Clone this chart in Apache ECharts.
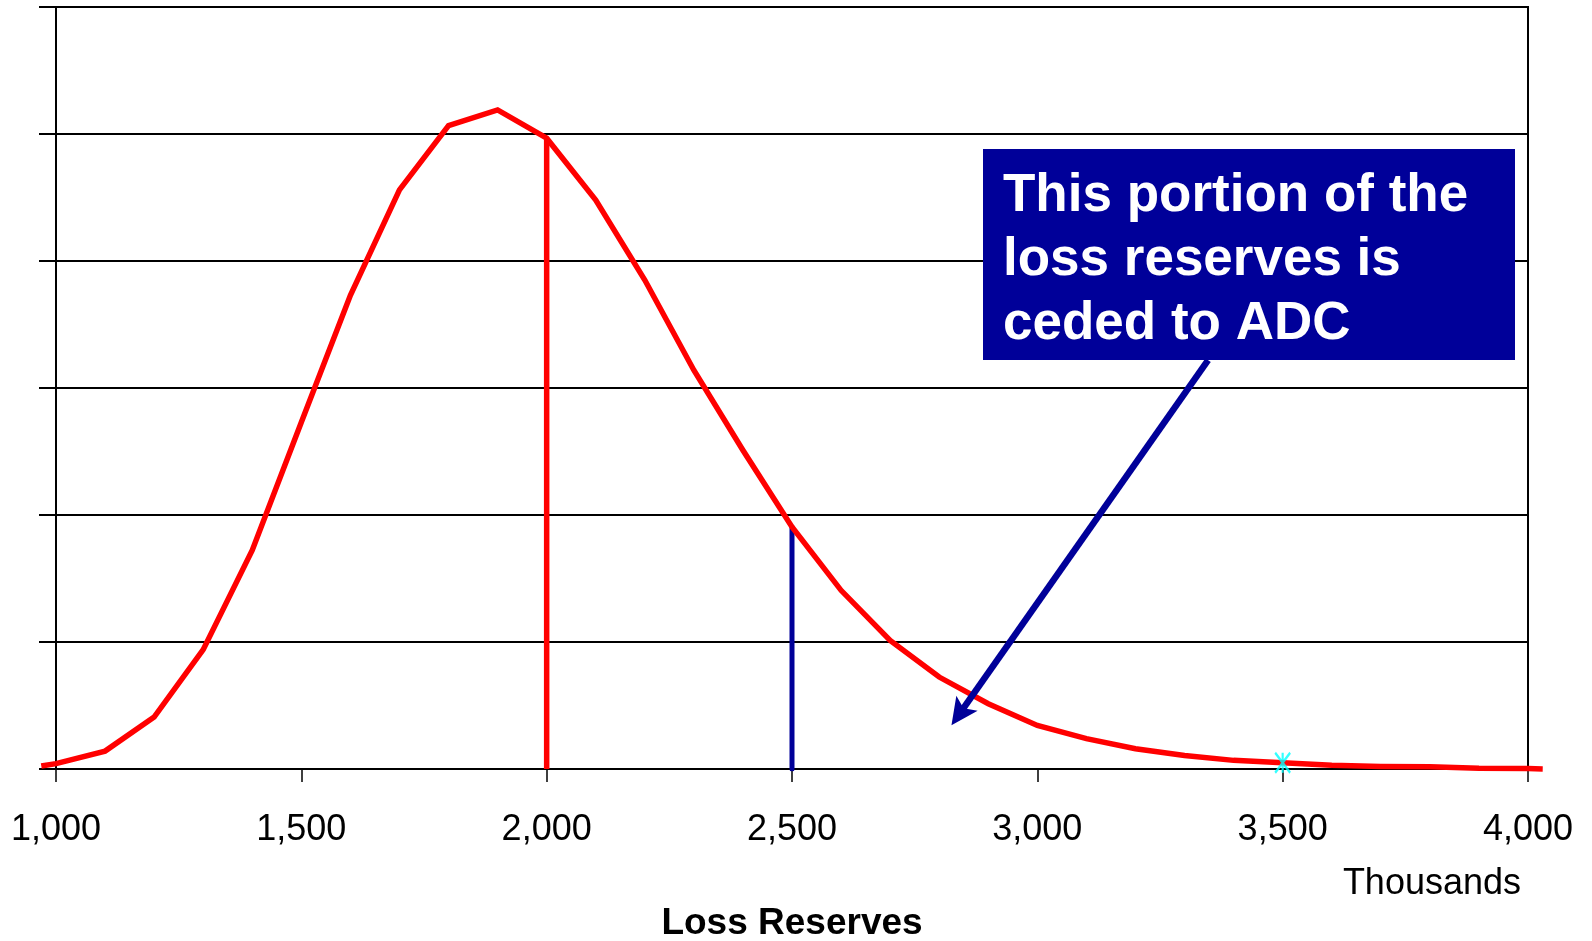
<!DOCTYPE html>
<html>
<head>
<meta charset="utf-8">
<title>Loss Reserves Distribution</title>
<script src="https://cdn.jsdelivr.net/npm/echarts@6/dist/echarts.min.js"></script>
<style>
  html, body { margin: 0; padding: 0; background: #ffffff; }
  #chart { width: 1592px; height: 941px; }
</style>
</head>
<body>
<div id="chart"></div>
<script>
// Loss reserves in thousands and the relative probability of each outcome
const lossReserves = [970, 1000, 1100, 1200, 1300, 1400, 1500, 1600, 1700, 1800, 1900,
  2000, 2100, 2200, 2300, 2400, 2500, 2600, 2700, 2800, 2900,
  3000, 3100, 3200, 3300, 3400, 3500, 3600, 3700, 3800, 3900, 4000, 4030];
const density = [0.023, 0.042, 0.141, 0.409, 0.94, 1.723, 2.73, 3.73, 4.56, 5.066, 5.19,
  4.967, 4.48, 3.85, 3.14, 2.51, 1.906, 1.407, 1.013, 0.724, 0.514,
  0.343, 0.239, 0.16, 0.107, 0.068, 0.05, 0.03, 0.02, 0.018, 0.006, 0.003, 0];

const xTicks = [1000, 1500, 2000, 2500, 3000, 3500, 4000];
const expectedReserve = 2000;   // red reference line
const attachmentPoint = 2500;   // blue reference line (ADC attaches here)
const markedPoint = 3500;       // highlighted point on the tail
const calloutText = ['This portion of the', 'loss reserves is', 'ceded to ADC'];
const calloutArrow = { from: [3348, 3.22], to: [2825, 0.344] };

const valueAt = x => density[lossReserves.indexOf(x)];
const curve = lossReserves.map((x, i) => [x, density[i]]);

const FONT = '"Liberation Sans", Arial, sans-serif';
const NAVY = '#000099';

// Plot frame in pixels; the curve gets a twin frame widened to its own data range
// (same px-per-thousand) so its ends can run slightly past the 1,000 / 4,000 frame.
const W = 1592;
const frame = { left: 56, right: 64, top: 7, bottom: 172 };
const xMin = 1000, xMax = 4000;
const curveMin = lossReserves[0], curveMax = lossReserves[lossReserves.length - 1];
const pxPerUnit = (W - frame.left - frame.right) / (xMax - xMin);
const curveFrame = {
  left: frame.left - (xMin - curveMin) * pxPerUnit,
  right: frame.right - (curveMax - xMax) * pxPerUnit,
  top: frame.top, bottom: frame.bottom
};

const chart = echarts.init(document.getElementById('chart'), null, { renderer: 'canvas' });

chart.setOption({
  animation: false,
  backgroundColor: '#ffffff',
  grid: [
    Object.assign({
      outerBoundsMode: 'none', containLabel: false,
      show: true, borderColor: '#000000', borderWidth: 2, backgroundColor: 'transparent'
    }, frame),
    Object.assign({ outerBoundsMode: 'none', containLabel: false, show: false }, curveFrame)
  ],
  xAxis: [
    {
      type: 'value', gridIndex: 0,
      min: xMin, max: xMax, interval: 500,
      name: 'Loss Reserves',
      nameLocation: 'middle',
      nameGap: 136,
      nameTextStyle: { fontFamily: FONT, fontSize: 37, fontWeight: 'bold', color: '#000000' },
      axisLine: { show: true, onZero: false, lineStyle: { color: '#000000', width: 2 } },
      axisTick: { show: true, length: 13, lineStyle: { color: '#000000', width: 1.5 } },
      axisLabel: {
        margin: 43, fontFamily: FONT, fontSize: 36, color: '#000000',
        formatter: v => xTicks.includes(v) ? v.toLocaleString('en-US') : ''
      },
      splitLine: { show: false }
    },
    {
      type: 'value', gridIndex: 1, show: false,
      min: curveMin, max: curveMax, splitLine: { show: false }
    }
  ],
  yAxis: [
    {
      type: 'value', gridIndex: 0,
      min: 0, max: 6, interval: 1,
      axisLine: { show: true, lineStyle: { color: '#000000', width: 2 } },
      axisTick: { show: true, length: 17, lineStyle: { color: '#000000', width: 2 } },
      axisLabel: { show: false },
      splitLine: { show: true, lineStyle: { color: '#000000', width: 2 } }
    },
    {
      type: 'value', gridIndex: 1, show: false,
      min: 0, max: 6, interval: 1, splitLine: { show: false }
    }
  ],
  series: [
    {
      name: 'Distribution',
      type: 'line',
      xAxisIndex: 1, yAxisIndex: 1,
      data: curve,
      clip: false,
      symbol: 'none',
      lineStyle: { color: '#ff0000', width: 5.5, join: 'miter' },
      z: 3
    },
    {
      name: 'Expected',
      type: 'line',
      data: [[expectedReserve, 0], [expectedReserve, valueAt(expectedReserve)]],
      symbol: 'none',
      lineStyle: { color: '#ff0000', width: 5.5 },
      z: 2
    },
    {
      name: 'Attachment',
      type: 'line',
      data: [[attachmentPoint, 0], [attachmentPoint, valueAt(attachmentPoint)]],
      symbol: 'none',
      lineStyle: { color: NAVY, width: 5, cap: 'round' },
      z: 2
    },
    {
      name: 'Marker',
      type: 'scatter',
      data: [[markedPoint, valueAt(markedPoint)]],
      symbol: 'path://M0,0L10,12M10,0L0,12M5,0L5,12',
      symbolSize: [15, 20],
      itemStyle: { color: 'rgba(0,0,0,0)', borderColor: '#00ffff', borderWidth: 2.5 },
      z: 6
    }
  ]
});

// Callout box, its label, the arrow pointing into the tail, and the unit note
const tail = chart.convertToPixel({ gridIndex: 0 }, calloutArrow.to);
const base = chart.convertToPixel({ gridIndex: 0 }, calloutArrow.from);
const dx = tail[0] - base[0], dy = tail[1] - base[1];
const len = Math.hypot(dx, dy);
const ux = dx / len, uy = dy / len;     // along the arrow
const px = -uy, py = ux;                // perpendicular
const headLen = 27, headHalf = 13, notch = 6;
const back = [tail[0] - ux * headLen, tail[1] - uy * headLen];
const headPoints = [
  tail,
  [back[0] + px * headHalf, back[1] + py * headHalf],
  [tail[0] - ux * (headLen - notch), tail[1] - uy * (headLen - notch)],
  [back[0] - px * headHalf, back[1] - py * headHalf]
];
const shaftEnd = [tail[0] - ux * (headLen - notch - 1), tail[1] - uy * (headLen - notch - 1)];

chart.setOption({
  graphic: [
    {
      type: 'line', z: 90,
      shape: { x1: base[0], y1: base[1], x2: shaftEnd[0], y2: shaftEnd[1] },
      style: { stroke: NAVY, lineWidth: 6.5 }
    },
    {
      type: 'polygon', z: 90,
      shape: { points: headPoints },
      style: { fill: NAVY }
    },
    {
      type: 'rect', z: 100,
      shape: { x: 983, y: 149, width: 532, height: 211 },
      style: { fill: NAVY }
    },
    {
      type: 'text', z: 101,
      x: 1003, y: 164,
      style: {
        text: calloutText.join('\n'),
        font: 'bold 53px ' + FONT,
        lineHeight: 64,
        fill: '#ffffff',
        textAlign: 'left',
        textVerticalAlign: 'top'
      }
    },
    {
      type: 'text', z: 100,
      x: 1521, y: 884,
      style: {
        text: 'Thousands',
        font: '36px ' + FONT,
        fill: '#000000',
        textAlign: 'right',
        textVerticalAlign: 'middle'
      }
    }
  ]
});
</script>
</body>
</html>
